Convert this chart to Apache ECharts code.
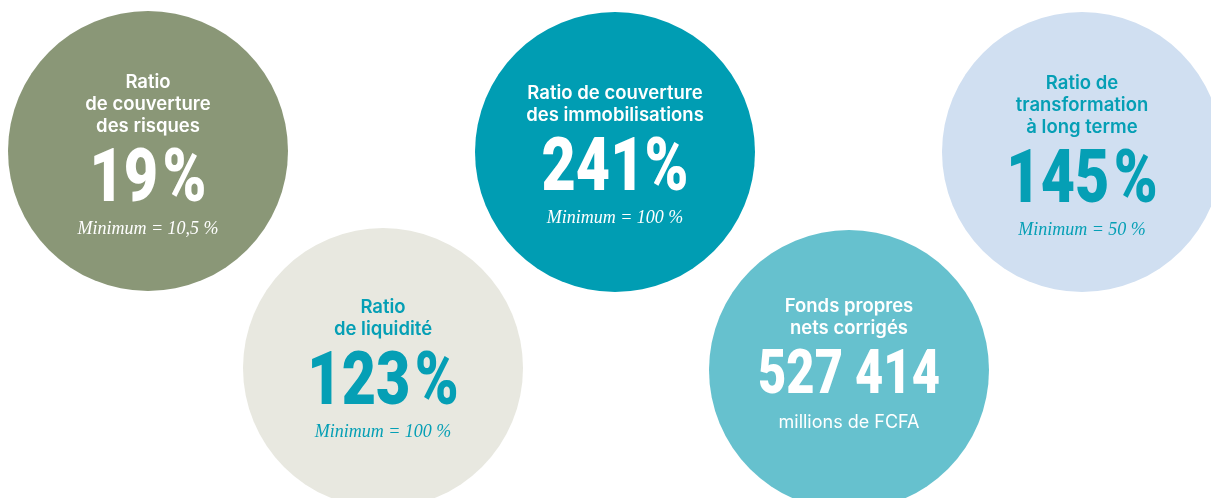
<!DOCTYPE html>
<html>
<head>
<meta charset="utf-8">
<script src="https://cdn.jsdelivr.net/npm/echarts@6/dist/echarts.min.js"></script>
<style>
  html, body { margin: 0; padding: 0; background: #fff; }
  #chart { width: 1211px; height: 498px; }
</style>
</head>
<body>
<div id="chart"></div>
<script>
// indicators, in drawing order
const titles = [
    ['Ratio', 'de couverture', 'des risques'],
    ['Ratio', 'de liquidité'],
    ['Ratio de couverture', 'des immobilisations'],
    ['Fonds propres', 'nets corrigés'],
    ['Ratio de', 'transformation', 'à long terme']
];
const values = ['19 %', '123 %', '241%', '527 414', '145 %'];
const notes = ['Minimum = 10,5 %', 'Minimum = 100 %', 'Minimum = 100 %', 'millions de FCFA', 'Minimum = 50 %'];

// layout of the bubbles (page pixels)
const layout = [
    {cx: 148, cy: 151, shift: 3, big: 74, fill: '#8a9777', ink: '#ffffff', italic: true},
    {cx: 383, cy: 368, shift: 0, big: 74, fill: '#e8e8e0', ink: '#059fb5', italic: true},
    {cx: 615, cy: 152, shift: 2, big: 74, fill: '#009db3', ink: '#ffffff', italic: true},
    {cx: 849, cy: 370, shift: -7, big: 61, fill: '#66c1ce', ink: '#ffffff', italic: false},
    {cx: 1082, cy: 152, shift: 3, big: 74, fill: '#d0dff1', ink: '#059fb5', italic: true}
];
const R = 140;

const chart = echarts.init(document.getElementById('chart'), null, {renderer: 'canvas'});

const renderItem = (params, api) => {
    const i = api.value(2);
    const L = layout[i];
    const c = api.coord([api.value(0), api.value(1)]);
    const r = api.size([R, 0])[0];
    const lines = titles[i];
    const lineH = 22;
    const small = L.big < 70;
    const gapBig = small ? 45 : 50;
    const gapNote = small ? 46 : 50;
    const span = (lines.length - 1) * lineH + gapBig + gapNote;
    const first = c[1] + L.shift - span / 2;
    const lastY = first + (lines.length - 1) * lineH;

    const children = [{
        type: 'circle',
        shape: {cx: c[0], cy: c[1], r: r},
        style: {fill: L.fill}
    }];
    lines.forEach((t, k) => {
        children.push({
            type: 'text',
            x: c[0], y: first + k * lineH,
            style: {
                text: t, fill: L.ink, align: 'center', verticalAlign: 'middle',
                fontFamily: 'Inter', fontWeight: 600, fontSize: 18.5
            }
        });
    });
    // percent sign sits close to the digits: narrow space via rich text
    children.push({
        type: 'text',
        x: c[0], y: lastY + gapBig + (small ? 4 : 6),
        scaleX: 0.8,
        style: {
            text: values[i].replace(' %', '{sp| }%'), fill: L.ink,
            align: 'center', verticalAlign: 'middle',
            fontFamily: 'Roboto', fontWeight: 900, fontSize: L.big,
            rich: {sp: {fontSize: 22, fontFamily: 'Roboto'}}
        }
    });
    children.push({
        type: 'text',
        x: c[0], y: lastY + gapBig + gapNote + 3,
        style: L.italic ? {
            text: notes[i], fill: L.ink, align: 'center', verticalAlign: 'middle',
            fontFamily: 'Liberation Serif', fontStyle: 'italic', fontSize: 18
        } : {
            text: notes[i], fill: L.ink, align: 'center', verticalAlign: 'middle',
            fontFamily: 'Inter', fontWeight: 400, fontSize: 18
        }
    });
    return {type: 'group', children: children};
};

const options = {
    backgroundColor: '#ffffff',
    animation: false,
    grid: {left: 0, right: 0, top: 0, bottom: 0},
    xAxis: {type: 'value', min: 0, max: 1211, show: false},
    yAxis: {type: 'value', min: 0, max: 498, inverse: true, show: false},
    series: [{
        type: 'custom',
        clip: false,
        renderItem: renderItem,
        data: layout.map((L, i) => [L.cx, L.cy, i])
    }]
};

chart.setOption(options);
</script>
</body>
</html>
